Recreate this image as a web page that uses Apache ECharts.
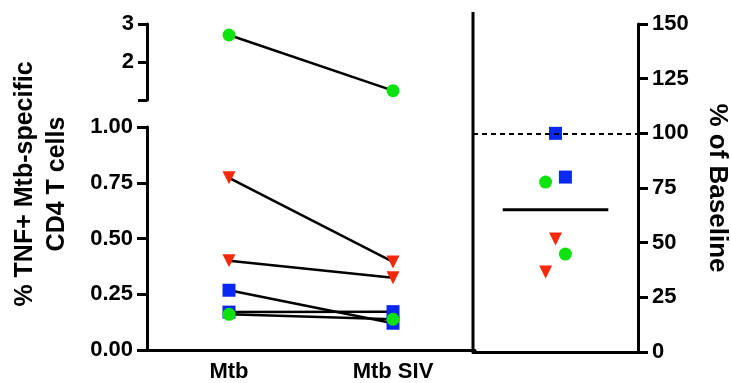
<!DOCTYPE html>
<html lang="en">
<head>
    <meta charset="UTF-8">
    <title>TNF+ CD4</title>
    <style>
        body { margin: 0; background: #ffffff; }
        #chart { width: 731px; height: 383px; }
    </style>
</head>
<body>
<div id="chart"></div>
<script src="https://cdn.jsdelivr.net/npm/echarts@6/dist/echarts.min.js"></script>
<script type="text/javascript">
    // categories on the paired panel
    const categories = ['Mtb', 'Mtb SIV'];

    // paired values (% TNF+ Mtb-specific CD4 T cells), one array per animal
    const green1 = [2.71, 1.245];   // upper (broken) segment
    const red1 = [0.772, 0.395];
    const red2 = [0.40, 0.324];
    const blue1 = [0.268, 0.12];
    const blue2 = [0.17, 0.172];
    const green2 = [0.16, 0.138];

    // right panel: % of baseline
    const baselinePct = [100, 80, 77.7, 51.7, 44.8, 36.6];
    const baselineJitter = [0, 0.6, -0.6, 0, 0.6, -0.6];
    const baselineShape = ['blue', 'blue', 'green', 'red', 'green', 'red'];
    const medianPct = 65;
    const medianSpan = [-3.2, 3.2];
    const refPct = 100;

    const colors = {green: '#0ee20e', blue: '#0a28f2', red: '#f5280a'};
    const symbols = {
        green: {symbol: 'circle', symbolSize: 13, symbolRotate: 0},
        blue: {symbol: 'rect', symbolSize: 13, symbolRotate: 0},
        red: {symbol: 'triangle', symbolSize: 13, symbolRotate: 180}
    };

    const font = '"Liberation Sans", Arial, sans-serif';
    const tickLabel = {color: '#000', fontFamily: font, fontWeight: 'bold', fontSize: 22};

    function pairSeries(values, kind, gridIdx) {
        return Object.assign({
            type: 'line',
            xAxisIndex: gridIdx,
            yAxisIndex: gridIdx,
            data: values,
            lineStyle: {color: '#000', width: 2.5},
            itemStyle: {color: colors[kind], borderWidth: 0, opacity: 1},
            z: 3
        }, symbols[kind]);
    }

    let myChart = echarts.init(document.getElementById('chart'));

    let baseSeries = baselineShape.map(function (k, i) {
        return Object.assign({
            type: 'scatter',
            xAxisIndex: 2,
            yAxisIndex: 2,
            data: [[baselineJitter[i], baselinePct[i]]],
            itemStyle: {color: colors[k], borderWidth: 0, opacity: 1},
            z: 4
        }, symbols[k]);
    });

    myChart.setOption({
        animation: false,
        grid: [
            {left: 147, top: 24, width: 328, height: 76},
            {left: 147, top: 127, width: 328, height: 225},
            {left: 473, top: 24, width: 167, height: 328}
        ],
        xAxis: [
            {gridIndex: 0, type: 'category', data: categories, show: false},
            {
                gridIndex: 1, type: 'category', data: categories, boundaryGap: true,
                axisLine: {lineStyle: {color: '#000', width: 3}},
                axisTick: {show: false},
                axisLabel: Object.assign({}, tickLabel, {fontSize: 22, margin: 11})
            },
            {
                gridIndex: 2, type: 'value', min: -5, max: 5,
                axisLine: {show: true, onZero: false, lineStyle: {color: '#000', width: 3}},
                axisTick: {show: false}, axisLabel: {show: false}, splitLine: {show: false}
            }
        ],
        yAxis: [
            {
                gridIndex: 0, type: 'value', min: 1, max: 3, interval: 1,
                axisLine: {show: true, lineStyle: {color: '#000', width: 3}},
                axisTick: {show: true, length: 9, lineStyle: {width: 3}},
                axisLabel: Object.assign({}, tickLabel, {
                    margin: 13,
                    formatter: v => v === 1 ? '' : String(v)
                }),
                splitLine: {show: false}
            },
            {
                gridIndex: 1, type: 'value', min: 0, max: 1, interval: 0.25,
                axisLine: {show: true, lineStyle: {color: '#000', width: 3}},
                axisTick: {show: true, length: 10, lineStyle: {width: 3}},
                axisLabel: Object.assign({}, tickLabel, {
                    margin: 14,
                    formatter: v => v.toFixed(2)
                }),
                splitLine: {show: false}
            },
            {
                gridIndex: 2, type: 'value', position: 'right', min: 0, max: 150, interval: 25,
                axisLine: {show: true, onZero: false, lineStyle: {color: '#000', width: 3}},
                axisTick: {show: true, length: 10, lineStyle: {width: 3}},
                axisLabel: Object.assign({}, tickLabel, {margin: 14}),
                splitLine: {show: false},
                name: '% of Baseline',
                nameLocation: 'middle',
                nameRotate: -90,
                nameGap: 66,
                nameTextStyle: {color: '#000', fontFamily: font, fontWeight: 'bold', fontSize: 26}
            }
        ],
        graphic: [
            {
                type: 'line',
                shape: {x1: 473, y1: 12, x2: 473, y2: 352},
                style: {stroke: '#000', lineWidth: 3}
            },
            {
                type: 'text',
                x: 41, y: 184,
                rotation: Math.PI / 2,
                style: {
                    text: '% TNF+ Mtb-specific\nCD4 T cells',
                    align: 'center',
                    verticalAlign: 'middle',
                    lineHeight: 32,
                    font: 'bold 25px ' + font,
                    fill: '#000'
                }
            }
        ],
        series: [
            pairSeries(green1, 'green', 0),
            pairSeries(red1, 'red', 1),
            pairSeries(red2, 'red', 1),
            pairSeries(blue1, 'blue', 1),
            pairSeries(blue2, 'blue', 1),
            pairSeries(green2, 'green', 1),
            {
                type: 'line',
                xAxisIndex: 2,
                yAxisIndex: 2,
                data: [[medianSpan[0], medianPct], [medianSpan[1], medianPct]],
                symbol: 'none',
                lineStyle: {color: '#000', width: 3},
                markLine: {
                    silent: true,
                    symbol: 'none',
                    label: {show: false},
                    lineStyle: {color: '#000', width: 2, type: [5, 4]},
                    data: [{yAxis: refPct}]
                },
                z: 2
            }
        ].concat(baseSeries)
    });
</script>
</body>
</html>
